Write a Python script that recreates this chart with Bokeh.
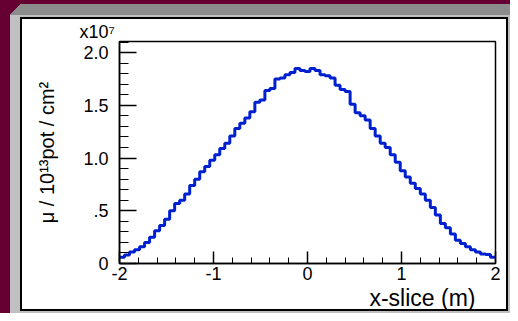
from bokeh.plotting import figure
from bokeh.models import Range1d, FixedTicker, Title
from bokeh.embed import file_html
from bokeh.resources import INLINE

# ---------------- data ----------------
x_lo, x_hi = -2.0, 2.0
# muon flux per bin, in units of 1e7 (axis multiplier "x10^7")
counts = [0.06, 0.08, 0.11, 0.13, 0.16, 0.20, 0.25, 0.31, 0.36, 0.42,
          0.50, 0.57, 0.60, 0.66, 0.74, 0.80, 0.87, 0.92, 0.98, 1.03,
          1.09, 1.14, 1.21, 1.28, 1.33, 1.38, 1.44, 1.53, 1.55, 1.64,
          1.66, 1.75, 1.76, 1.79, 1.81, 1.85, 1.83, 1.82, 1.85, 1.83,
          1.79, 1.78, 1.76, 1.69, 1.65, 1.63, 1.51, 1.43, 1.40, 1.36,
          1.28, 1.21, 1.14, 1.10, 1.03, 0.96, 0.88, 0.82, 0.76, 0.71,
          0.66, 0.60, 0.53, 0.46, 0.38, 0.34, 0.28, 0.22, 0.19, 0.16,
          0.13, 0.11, 0.09, 0.085, 0.06]
x_major_ticks = [-2, -1, 0, 1, 2]
x_tick_labels = {-2: "-2", -1: "-1", 0: "0", 1: "1", 2: "2"}
y_major_ticks = [0, 0.5, 1.0, 1.5, 2.0]
y_tick_labels = {0: "0", 0.5: ".5", 1: "1.0", 1.5: "1.5", 2: "2.0"}
y_max = 2.105
x_title = "x-slice (m)"
y_title = "\u03bc / 10\u00b9\u00b3pot / cm\u00b2"
multiplier = "x10\u2077"

n_bins = len(counts)
width = (x_hi - x_lo) / n_bins
edges = [x_lo + i * width for i in range(n_bins + 1)]

FONT = "Liberation Sans"

# ---------------- figure ----------------
W, H = 510, 313
FL, FR, FT, FB = 119, 495, 41, 263   # plot frame in page pixels
p = figure(width=W, height=H, x_range=Range1d(x_lo, x_hi), y_range=Range1d(0, y_max),
           output_backend="svg", toolbar_location=None,
           min_border_left=FL, min_border_right=W - FR,
           min_border_top=FT, min_border_bottom=H - FB)
p.grid.visible = False
p.background_fill_color = "white"
p.border_fill_color = None
p.outline_line_color = "black"
p.outline_line_width = 1.5

# ROOT-like canvas bevel drawn as the page background behind the (transparent) border
maroon = "#660033"
p.styles = {
    "background-color": maroon,
    "background-image": ", ".join([
        "linear-gradient(#ffffff, #ffffff)",
        "linear-gradient(#000000, #000000)",
        "linear-gradient(to bottom right, %s 50%%, #8c8c8c 50%%)" % maroon,
        "linear-gradient(#8c8c8c, #8c8c8c)",
        "linear-gradient(#c0c0c0, #c0c0c0)",
    ]),
    "background-position": "22px 19px, 20px 17px, 10px 4px, 21px 4px, 10px 15px",
    "background-size": "484px 290px, 488px 294px, 11px 11px, 489px 11px, 500px 298px",
    "background-repeat": "no-repeat",
}

# ---------------- histogram ----------------
p.step(x=edges, y=counts + [counts[-1]], mode="after", line_color="#0020d0", line_width=3)

# ---------------- axes ----------------
xa = p.xaxis[0]
xa.ticker = FixedTicker(ticks=x_major_ticks,
                        minor_ticks=[x_lo + 0.2 * i for i in range(21)])
xa.major_label_overrides = x_tick_labels
xa.major_tick_in = 12
xa.major_tick_out = 0
xa.minor_tick_in = 6
xa.minor_tick_out = 0
xa.major_label_standoff = 3
ya = p.yaxis[0]
ya.ticker = FixedTicker(ticks=y_major_ticks,
                        minor_ticks=[0.1 * i for i in range(22)])
ya.major_label_overrides = y_tick_labels
ya.major_tick_in = 17
ya.major_tick_out = 0
ya.minor_tick_in = 9
ya.minor_tick_out = 0
ya.major_label_standoff = 11
ya.axis_label = y_title
ya.axis_label_standoff = 22
ya.axis_label_text_font = FONT
ya.axis_label_text_font_size = "20px"
ya.axis_label_text_font_style = "normal"
ya.axis_label_text_color = "black"
for ax in (xa, ya):
    ax.axis_line_color = "black"
    ax.axis_line_width = 1.5
    ax.major_tick_line_color = "black"
    ax.minor_tick_line_color = "black"
    ax.major_tick_line_width = 1.5
    ax.major_label_text_font = FONT
    ax.major_label_text_font_size = "18px"
    ax.major_label_text_color = "black"

# ---------------- titles ----------------
p.title.text = multiplier
p.title.align = "left"
p.title.offset = -40
p.title.standoff = 0
p.title.text_font = FONT
p.title.text_font_size = "18px"
p.title.text_font_style = "normal"
p.title.text_color = "black"

xt = Title(text=x_title, align="right", offset=20, standoff=0, text_font=FONT,
           text_font_size="23px", text_font_style="normal", text_color="black")
p.add_layout(xt, "below")

open("out.html", "w").write(file_html(p, INLINE))
